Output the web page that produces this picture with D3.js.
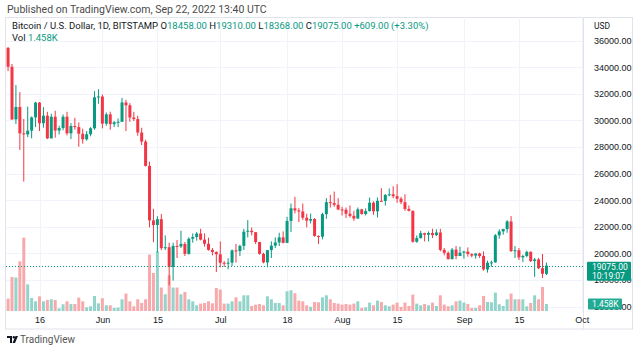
<!DOCTYPE html>
<html>
<head>
<meta charset="utf-8">
<script src="https://cdn.jsdelivr.net/npm/d3@7"></script>
<style>
  body { margin: 0; background: #fff; }
  svg { display: block; font-family: Roboto, "Open Sans", sans-serif; }
</style>
</head>
<body>
<svg id="chart" width="640" height="352"></svg>
<script>
// Daily BTC/USD candles, Bitstamp, 2022-05-08 .. 2022-09-22
var firstDay = "2022-05-08", lastDay = "2022-09-22";

var opens = [
  35468, 34038, 30080, 31010, 29030, 28950, 29230, 30230, 31340, 29790, 30360, 28650, 30280, 29240, 29430, 30280, 29030, 29580, 29500, 29000, 28580, 28960, 29410, 31740,
  31800, 29760, 30460, 29720, 29860, 29900, 31350, 31140, 30220, 30100, 29090, 28410, 26580, 22480, 22130, 22570, 20390, 20460, 18980, 20560, 20520, 20710, 19960, 21100, 21230, 21490, 21030, 20720, 20260, 20100,
  19930, 19290, 19240, 19300, 20220, 20170, 20560, 21630, 21700, 21590, 20850, 19960, 19320, 20240, 20580, 20820, 21200, 20790, 22440, 23390, 23230, 23150, 22680, 22460, 22580, 21310, 21250, 22950, 23850, 23780, 23650,
  23300, 23280, 22980, 22820, 22620, 23310, 22960, 23180, 23810, 23160, 23950, 23940, 24400, 24440, 24300, 24110, 23850, 23340, 23200, 20870, 21150, 21520, 21400, 21530, 21370, 21570, 20260, 20040, 19560, 20280, 19800,
  20050, 20130, 19950, 19830, 19990, 19800, 18790, 19290, 19320, 21360, 21650, 21830, 22400, 20170, 20230, 19700, 19800, 20110, 19420, 19540, 18880, 18458
];
var highs = [
  35510, 34245, 32660, 32130, 30110, 31030, 30300, 31400, 31390, 31000, 30650, 30500, 30730, 29600, 30450, 30650, 29800, 30200, 29850, 29380, 29200, 29500, 32200, 32350,
  31950, 30600, 30660, 29950, 30150, 31700, 31550, 31300, 30650, 30350, 29450, 28550, 26900, 23350, 22800, 22950, 21350, 20800, 20800, 21000, 21700, 20850, 21200, 21500, 21600, 21850, 21500, 21180, 20400, 20150,
  20900, 19420, 19630, 20300, 20700, 20650, 21850, 22500, 21950, 21600, 20870, 20050, 20250, 20900, 21200, 21550, 21650, 22750, 23750, 24250, 23400, 23750, 22980, 23000, 22650, 21350, 23050, 24150, 24400, 24650, 24150,
  23500, 23450, 23600, 23200, 23450, 23350, 23380, 24200, 23920, 24200, 24900, 24450, 24880, 25050, 25200, 24250, 24450, 23600, 23220, 21350, 21700, 21550, 21650, 21850, 21800, 21850, 20400, 20150, 20400, 20550, 20500,
  20200, 20450, 20000, 20000, 20050, 20150, 19450, 19450, 21450, 21800, 21850, 22500, 22800, 20550, 20400, 19900, 20200, 20150, 19650, 19650, 19950, 19310
];
var lows = [
  33713, 30032, 29730, 27780, 25400, 28750, 28650, 29500, 29200, 29450, 28600, 28650, 28700, 28950, 29260, 28880, 28600, 29300, 28020, 28250, 28480, 28800, 29300, 31250,
  29400, 29600, 29300, 29500, 29500, 29880, 29200, 29900, 29950, 28850, 28150, 26540, 21950, 20840, 20070, 20240, 20250, 17600, 17950, 19650, 20400, 19800, 19900, 20800, 20950, 20980, 20500, 20200, 19850, 18600,
  18950, 18980, 18800, 19050, 19300, 19800, 20250, 21200, 21350, 20700, 19900, 19250, 18950, 19650, 20400, 20550, 20750, 20770, 21600, 23000, 22350, 22500, 21950, 22250, 21250, 20700, 21050, 22600, 23450, 23500, 23250,
  22850, 22650, 22700, 22450, 22600, 22900, 22850, 23150, 22900, 22700, 23900, 23600, 24300, 24150, 23800, 23700, 23200, 23150, 20800, 20800, 21100, 20900, 20900, 21150, 21300, 20150, 19850, 19550, 19550, 19550, 19800,
  19600, 19750, 19700, 19600, 19650, 18700, 18550, 19000, 19300, 21100, 21400, 21550, 20100, 19650, 19500, 19350, 19700, 19350, 18230, 18800, 18150, 18368
];
var closes = [
  34038, 30080, 31010, 29030, 28950, 29230, 30230, 31340, 29790, 30360, 28650, 30280, 29240, 29430, 30280, 29030, 29580, 29500, 29000, 28580, 28960, 29410, 31740, 31800,
  29760, 30460, 29720, 29860, 29900, 31350, 31140, 30220, 30100, 29090, 28410, 26580, 22480, 22130, 22570, 20390, 20460, 18980, 20560, 20520, 20710, 19960, 21100, 21230, 21490, 21030, 20720, 20260, 20100, 19930,
  19290, 19240, 19300, 20220, 20170, 20560, 21630, 21700, 21590, 20850, 19960, 19320, 20240, 20580, 20820, 21200, 20790, 22440, 23390, 23230, 23150, 22680, 22460, 22580, 21310, 21250, 22950, 23850, 23780, 23650, 23300,
  23280, 22980, 22820, 22620, 23310, 22960, 23180, 23810, 23160, 23950, 23940, 24400, 24440, 24300, 24110, 23850, 23340, 23200, 20870, 21150, 21520, 21400, 21530, 21370, 21570, 20260, 20040, 19560, 20280, 19800, 20050,
  20130, 19950, 19830, 19990, 19800, 18790, 19290, 19320, 21360, 21650, 21830, 22400, 20170, 20230, 19700, 19800, 20110, 19420, 19540, 18880, 18466, 19075
];
// volume, thousands of BTC
var volumes = [
  2.58, 7.08, 6.96, 10.35, 15.29, 5.56, 2.71, 2.02, 3.06, 2.02, 2.29, 2.44, 2.29, 0.56, 1.40, 2.02, 1.46, 1.46, 2.79, 2.02, 0.77, 0.98, 3.13, 1.60,
  2.65, 1.19, 1.19, 0.63, 0.71, 2.44, 3.63, 2.02, 0.98, 2.44, 1.67, 2.44, 11.75, 7.92, 12.44, 4.88, 3.48, 7.44, 4.88, 4.88, 3.48, 3.96, 2.44, 2.02, 1.19, 1.54, 1.67, 2.02, 1.60, 4.79,
  4.46, 1.54, 1.54, 2.02, 2.85, 2.02, 3.27, 3.27, 1.04, 1.33, 1.46, 1.19, 3.06, 2.44, 1.67, 1.67, 1.19, 4.10, 4.31, 3.69, 2.17, 2.02, 1.19, 0.88, 1.88, 1.81, 2.85, 3.27, 2.44, 1.67, 1.54,
  1.33, 1.46, 1.33, 1.54, 2.02, 0.63, 0.77, 1.75, 1.19, 2.17, 1.88, 1.19, 0.98, 1.33, 1.75, 0.83, 1.75, 1.04, 3.42, 1.54, 1.19, 1.46, 1.19, 1.75, 1.04, 3.27, 1.33, 0.98, 1.19, 2.02, 2.17,
  1.75, 1.46, 0.63, 0.63, 1.19, 3.13, 1.88, 1.81, 3.83, 1.40, 1.04, 2.44, 3.63, 2.44, 2.44, 2.44, 0.98, 1.67, 3.27, 2.44, 5.00, 1.458
];

var priceTicks = [16000, 18000, 20000, 22000, 24000, 26000, 28000, 30000, 32000, 34000, 36000];
var timeTickDates = ["2022-05-16", "2022-06-01", "2022-06-15", "2022-07-01", "2022-07-18", "2022-08-01", "2022-08-15", "2022-09-01", "2022-09-15", "2022-10-01"];
var timeTickLabels = ["16", "Jun", "15", "Jul", "18", "Aug", "15", "Sep", "15", "Oct"];

var lastVolume = "1.458K", countdown = "10:19:07";

var upColor = "#089981", downColor = "#f23645";
var upVol = "#92d3ca", downVol = "#f7a9ab";
var gridColor = "#f0f3fa", frameColor = "#e0e3eb", textColor = "#131722";

var parseDay = d3.utcParse("%Y-%m-%d");
var days = d3.utcDay.range(parseDay(firstDay), d3.utcDay.offset(parseDay(lastDay), 1));
var candles = days.map(function(d, i) {
  return {date: d, o: opens[i], h: highs[i], l: lows[i], c: closes[i], v: volumes[i]};
});

// pane geometry
var pane = {left: 6, right: 583, top: 17, bottom: 312};

var x = d3.scaleUtc()
  .domain([parseDay("2022-05-16"), parseDay("2022-10-01")])
  .range([39.5, 581.8]);
var y = d3.scaleLinear().domain([16000, 36000]).range([306.5, 40.7]);
var yVol = d3.scaleLinear().domain([0, 20]).range([311, 215]);

var svg = d3.select("#chart");

svg.append("text")
  .attr("x", 7).attr("y", 13)
  .attr("font-size", "10.5px").attr("fill", "#4a4a4a")
  .text("Published on TradingView.com, Sep 22, 2022 13:40 UTC");

// frame
svg.append("rect")
  .attr("x", 5.5).attr("y", 17.5)
  .attr("width", 627).attr("height", 311.5)
  .attr("fill", "none").attr("stroke", frameColor);

svg.append("clipPath").attr("id", "pane-clip")
  .append("rect")
  .attr("x", pane.left).attr("y", pane.top)
  .attr("width", pane.right - pane.left).attr("height", pane.bottom - pane.top);

var plot = svg.append("g").attr("clip-path", "url(#pane-clip)");

// grid
plot.selectAll(".hgrid").data(priceTicks).enter().append("line")
  .attr("x1", pane.left).attr("x2", pane.right)
  .attr("y1", function(d) { return Math.round(y(d)) + 0.5; })
  .attr("y2", function(d) { return Math.round(y(d)) + 0.5; })
  .attr("stroke", gridColor);

plot.selectAll(".vgrid").data(timeTickDates).enter().append("line")
  .attr("x1", function(d) { return Math.round(x(parseDay(d))) + 0.5; })
  .attr("x2", function(d) { return Math.round(x(parseDay(d))) + 0.5; })
  .attr("y1", pane.top).attr("y2", pane.bottom)
  .attr("stroke", gridColor);

var barW = 3;

// volume
plot.selectAll(".vol").data(candles).enter().append("rect")
  .attr("x", function(d) { return x(d.date) - barW / 2; })
  .attr("y", function(d) { return yVol(d.v); })
  .attr("width", barW)
  .attr("height", function(d) { return yVol(0) - yVol(d.v); })
  .attr("fill", function(d) { return d.c >= d.o ? upVol : downVol; });

// wicks
plot.selectAll(".wick").data(candles).enter().append("line")
  .attr("x1", function(d) { return x(d.date); })
  .attr("x2", function(d) { return x(d.date); })
  .attr("y1", function(d) { return y(d.h); })
  .attr("y2", function(d) { return y(d.l); })
  .attr("stroke", function(d) { return d.c >= d.o ? upColor : downColor; })
  .attr("stroke-width", 1);

// bodies
plot.selectAll(".body").data(candles).enter().append("rect")
  .attr("x", function(d) { return x(d.date) - barW / 2; })
  .attr("y", function(d) { return y(Math.max(d.o, d.c)); })
  .attr("width", barW)
  .attr("height", function(d) { return Math.max(1, Math.abs(y(d.o) - y(d.c))); })
  .attr("fill", function(d) { return d.c >= d.o ? upColor : downColor; });

var last = candles[candles.length - 1];
var prev = candles[candles.length - 2];
var fmt = d3.format(".2f");

// last price line
plot.append("line")
  .attr("x1", pane.left).attr("x2", pane.right)
  .attr("y1", Math.round(y(last.c)) + 0.5).attr("y2", Math.round(y(last.c)) + 0.5)
  .attr("stroke", upColor).attr("stroke-dasharray", "1,2");

// price axis
svg.append("line")
  .attr("x1", pane.right + 0.5).attr("x2", pane.right + 0.5)
  .attr("y1", pane.top).attr("y2", 329)
  .attr("stroke", frameColor);

var yAxis = svg.append("g")
  .attr("transform", "translate(" + (pane.right + 11) + ",0)")
  .call(d3.axisRight(y).tickValues(priceTicks).tickFormat(fmt).tickSize(0).tickPadding(0));
yAxis.select(".domain").remove();
yAxis.selectAll("text").attr("font-size", "9px").attr("fill", textColor).attr("font-family", null);

svg.append("text")
  .attr("x", pane.right + 11).attr("y", 29)
  .attr("font-size", "8.5px").attr("fill", textColor)
  .text("USD");

// last price label
var py = y(last.c);
svg.append("rect")
  .attr("x", 587).attr("y", py - 4).attr("width", 44).attr("height", 19)
  .attr("rx", 1).attr("fill", upColor);
svg.append("text")
  .attr("x", 592).attr("y", py + 4)
  .attr("font-size", "8.5px").attr("fill", "#fff")
  .text(fmt(last.c));
svg.append("text")
  .attr("x", 592).attr("y", py + 13)
  .attr("font-size", "8.5px").attr("fill", "#fff")
  .text(countdown);

// last volume label
var vy = yVol(last.v);
svg.append("rect")
  .attr("x", 588).attr("y", vy - 5.5).attr("width", 34).attr("height", 11)
  .attr("rx", 1).attr("fill", "#22ab94");
svg.append("text")
  .attr("x", 592).attr("y", vy + 3)
  .attr("font-size", "8.5px").attr("fill", "#fff")
  .text(lastVolume);

// time axis
var xAxis = svg.append("g")
  .attr("transform", "translate(0," + pane.bottom + ")")
  .call(d3.axisBottom(x)
    .tickValues(timeTickDates.map(parseDay))
    .tickFormat(function(d, i) { return timeTickLabels[i]; })
    .tickSize(0).tickPadding(5));
xAxis.select(".domain").remove();
xAxis.selectAll("text").attr("font-size", "9px").attr("fill", textColor).attr("font-family", null);

// legend
var legend = svg.append("text")
  .attr("x", 12).attr("y", 29)
  .attr("font-size", "9.5px").attr("fill", textColor);
legend.append("tspan").text("Bitcoin / U.S. Dollar, 1D, BITSTAMP  ");
[["O", last.o], ["H", last.h], ["L", last.l], ["C", last.c]].forEach(function(p) {
  legend.append("tspan").attr("fill", textColor).text(p[0]);
  legend.append("tspan").attr("fill", upColor).text(fmt(p[1]) + "  ");
});
var change = last.c - prev.c;
legend.append("tspan").attr("fill", upColor)
  .text("+" + fmt(change) + " (+" + fmt(change / prev.c * 100) + "%)");

var volLegend = svg.append("text")
  .attr("x", 12).attr("y", 41)
  .attr("font-size", "9.5px").attr("fill", textColor);
volLegend.append("tspan").text("Vol  ");
volLegend.append("tspan").attr("fill", upColor).text(lastVolume);

// footer logo
var logo = svg.append("g").attr("transform", "translate(7,336)");
logo.append("path").attr("d", "M0,0H5V7H3V2H0Z").attr("fill", textColor);
logo.append("circle").attr("cx", 6.8).attr("cy", 1.2).attr("r", 1.2).attr("fill", textColor);
logo.append("path").attr("d", "M8.5,0H11L8,7H5.5Z").attr("fill", textColor);
svg.append("text")
  .attr("x", 20).attr("y", 343)
  .attr("font-size", "10px").attr("fill", "#555")
  .text("TradingView");
</script>
</body>
</html>
